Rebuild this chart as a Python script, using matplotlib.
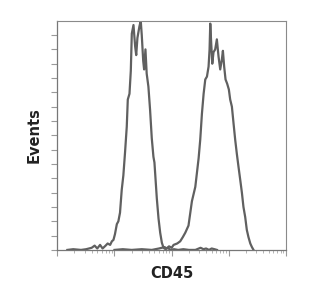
import matplotlib
matplotlib.use("Agg")
import matplotlib.pyplot as plt
from matplotlib.ticker import LogLocator, NullFormatter

# CD45 histogram, first population (x = intensity, y = events)
peak1_x = [1.5, 1.9, 2.6, 3.2, 4.0, 4.5, 5.0, 5.6, 6.2, 7.0, 7.6, 8.4, 9.0, 9.6,
           10.2, 11.0, 11.7, 12.5, 13.4, 14.3, 15.3, 16.4, 17.1, 18.3, 19.3,
           20.1, 21.5, 23.0, 24.0, 25.2, 27.3, 28.8, 30.0, 31.8, 33.0, 34.8,
           36.6, 39.2, 41.9, 44.9, 48.0, 50.0, 55.0, 58.9, 63.0, 67.4, 72.1,
           78.0, 85.0, 95.0, 110, 130, 160, 200, 260, 320, 360, 400, 450, 500, 560, 620]
peak1_y = [0.0, 0.05, 0.0, 0.05, 0.15, 0.3, 0.1, 0.35, 0.1, 0.3, 0.45, 0.35, 0.6, 0.7,
           1.1, 1.8, 2.0, 2.6, 4.2, 5.2, 6.8, 8.6, 10.5, 10.9, 12.5,
           15.1, 15.7, 14.2, 13.6, 14.8, 15.6, 16.0, 15.0, 13.2, 12.6, 14.0,
           12.3, 11.4, 9.8, 7.8, 6.5, 6.1, 3.6, 2.2, 1.2, 0.5, 0.15,
           0.05, 0.15, 0.0, 0.05, 0.0, 0.05, 0.0, 0.0, 0.15, 0.05, 0.1, 0.0, 0.1, 0.05, 0.0]

# second population
peak2_x = [10, 14, 20, 30, 45, 60, 75, 82, 90, 100, 108, 125, 141, 157, 173, 197,
           226, 259, 296, 316, 338, 362, 387, 414, 442, 460, 473, 492, 513, 539,
           577, 617, 660, 706, 755, 787, 828, 875, 935, 1000, 1055, 1130, 1210,
           1290, 1380, 1475, 1580, 1690, 1800, 1930, 2060, 2200, 2370, 2530, 2700]
peak2_y = [0.0, 0.05, 0.0, 0.05, 0.0, 0.1, 0.2, 0.1, 0.25, 0.15, 0.35, 0.45, 0.6, 0.9, 1.2, 1.7,
           3.4, 4.4, 6.4, 7.7, 9.5, 10.9, 11.9, 12.1, 12.8, 14.0, 15.8, 14.4, 13.0, 13.8,
           14.0, 14.7, 13.5, 12.6, 13.3, 13.9, 12.8, 11.9, 11.6, 11.2, 10.5, 10.0, 8.8,
           7.7, 6.7, 5.8, 4.9, 4.0, 3.0, 2.3, 1.4, 0.9, 0.45, 0.2, 0.0]

LINE = "#606060"
FRAME = "#8a8a8a"

fig = plt.figure(figsize=(3.33, 2.84), dpi=100, facecolor="white")
ax = fig.add_axes([0.172, 0.12, 0.687, 0.807])

ax.plot(peak1_x, peak1_y, color=LINE, linewidth=1.6)
ax.plot(peak2_x, peak2_y, color=LINE, linewidth=1.6)

ax.set_xscale("log")
ax.set_xlim(1, 10000)
ax.set_ylim(0, 16)

ax.xaxis.set_major_locator(LogLocator(base=10, numticks=10))
ax.xaxis.set_minor_locator(LogLocator(base=10, subs=range(2, 10), numticks=20))
ax.xaxis.set_major_formatter(NullFormatter())
ax.xaxis.set_minor_formatter(NullFormatter())
ax.set_yticks(range(0, 16))
ax.set_yticklabels([])

ax.tick_params(axis="both", which="major", direction="out", length=4,
               width=0.8, color="#9a9a9a")
ax.tick_params(axis="x", which="minor", direction="out", length=2.5,
               width=0.6, color="#a8a8a8")

for side in ["top", "right"]:
    ax.spines[side].set_color(FRAME)
    ax.spines[side].set_linewidth(0.8)
for side in ["left", "bottom"]:
    ax.spines[side].set_color("#777777")
    ax.spines[side].set_linewidth(0.9)

font = ["Liberation Sans Narrow", "DejaVu Sans Condensed", "DejaVu Sans"]
ax.set_xlabel("CD45", fontsize=10.5, fontweight="bold", family=font,
              color="#222222", labelpad=4)
ax.set_ylabel("Events", fontsize=10.5, fontweight="bold", family=font,
              color="#222222", labelpad=4)

fig.savefig("out.png", dpi=100, facecolor="white")
